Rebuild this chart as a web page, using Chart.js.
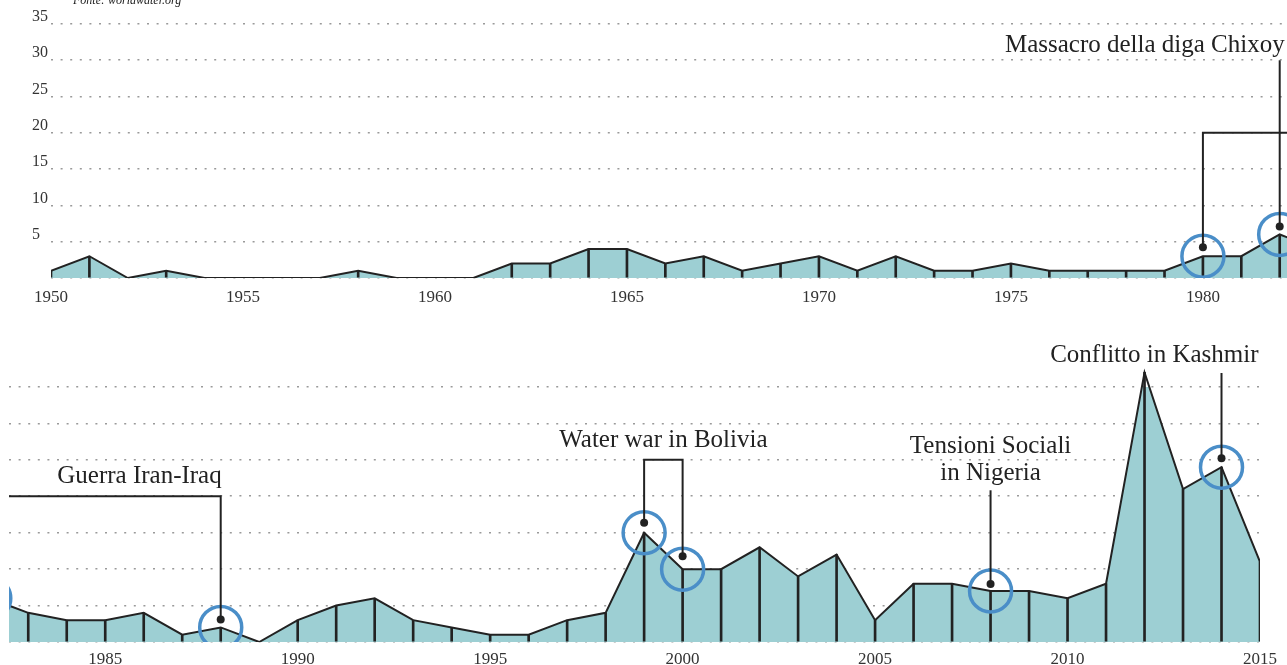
<!DOCTYPE html>
<html>
<head>
<meta charset="utf-8">
<script src="https://cdn.jsdelivr.net/npm/chart.js@4.4.1/dist/chart.umd.min.js"></script>
<style>
  body { margin: 0; background: #fff; width: 1287px; height: 665px; overflow: hidden; position: relative; }
  canvas { position: absolute; left: 0; }
  #top { top: 0; }
  #bottom { top: 330px; }
</style>
</head>
<body>
<canvas id="top" width="1287" height="320"></canvas>
<canvas id="bottom" width="1287" height="335"></canvas>
<script>
// conflitti legati all'acqua per anno
var years = [1950, 1951, 1952, 1953, 1954, 1955, 1956, 1957, 1958, 1959,
             1960, 1961, 1962, 1963, 1964, 1965, 1966, 1967, 1968, 1969,
             1970, 1971, 1972, 1973, 1974, 1975, 1976, 1977, 1978, 1979,
             1980, 1981, 1982, 1983, 1984, 1985, 1986, 1987, 1988, 1989,
             1990, 1991, 1992, 1993, 1994, 1995, 1996, 1997, 1998, 1999,
             2000, 2001, 2002, 2003, 2004, 2005, 2006, 2007, 2008, 2009,
             2010, 2011, 2012, 2013, 2014, 2015];
var conflicts = [1, 3, 0, 1, 0, 0, 0, 0, 1, 0,
                 0, 0, 2, 2, 4, 4, 2, 3, 1, 2,
                 3, 1, 3, 1, 1, 2, 1, 1, 1, 1,
                 3, 3, 6, 4, 3, 3, 4, 1, 2, 0,
                 3, 5, 6, 3, 2, 1, 1, 3, 4, 15,
                 10, 10, 13, 9, 12, 3, 8, 8, 7, 7,
                 6, 8, 37, 21, 24, 11];
var yTicks = [0, 5, 10, 15, 20, 25, 30, 35];
var xTicks = [1950, 1955, 1960, 1965, 1970, 1975, 1980, 1985, 1990, 1995, 2000, 2005, 2010, 2015];
var markTop = [1980, 1982];
var markBottom = [1982, 1988, 1999, 2000, 2008, 2014];
var notes = ['Massacro della diga Chixoy', 'Guerra Iran-Iraq', 'Water war in Bolivia',
             'Tensioni Sociali', 'in Nigeria', 'Conflitto in Kashmir'];
var source = 'Fonte: worldwater.org';

var FONT = '"Liberation Serif", "Times New Roman", serif';
var TEAL = '#9dcfd3';
var INK = '#222';
var BLUE = '#4a8ec8';

function valueOf(y) { return conflicts[years.indexOf(y)]; }
var points = years.map(function (y, i) { return { x: y, y: conflicts[i] }; });

function path(ctx, pts) {
  ctx.beginPath();
  ctx.moveTo(pts[0][0], pts[0][1]);
  for (var i = 1; i < pts.length; i++) ctx.lineTo(pts[i][0], pts[i][1]);
  ctx.stroke();
}
function dot(ctx, x, y) {
  ctx.beginPath();
  ctx.arc(x, y, 4, 0, Math.PI * 2);
  ctx.fill();
}

function makeChart(id, xmin, xmax, marks, padding, showY, xHeight, labelPad, clip, drawNotes) {
  return new Chart(document.getElementById(id), {
    type: 'line',
    data: {
      datasets: [{
        type: 'scatter',
        data: marks.map(function (y) { return { x: y, y: valueOf(y) }; }),
        pointRadius: 21,
        pointBorderWidth: 3.5,
        pointBorderColor: BLUE,
        pointBackgroundColor: 'rgba(0,0,0,0)',
        order: 0
      }, {
        type: 'bar',
        data: points,
        barThickness: 2,
        backgroundColor: INK,
        clip: clip,
        order: 1
      }, {
        data: points,
        borderColor: INK,
        borderWidth: 2,
        backgroundColor: TEAL,
        fill: 'origin',
        tension: 0,
        pointRadius: 0,
        clip: clip,
        order: 2
      }]
    },
    options: {
      responsive: false,
      animation: false,
      devicePixelRatio: 1,
      layout: { padding: padding, autoPadding: false },
      plugins: { legend: { display: false }, tooltip: { enabled: false } },
      scales: {
        x: {
          type: 'linear',
          min: xmin,
          max: xmax,
          offset: false,
          grid: { display: false, drawTicks: false },
          border: { display: false },
          afterBuildTicks: function (s) {
            s.ticks = xTicks.filter(function (t) { return t >= xmin && t <= xmax; })
                            .map(function (t) { return { value: t }; });
          },
          afterFit: function (s) { s.height = xHeight; },
          ticks: {
            padding: labelPad,
            maxRotation: 0,
            autoSkip: false,
            color: '#333',
            font: { family: FONT, size: 17 },
            callback: function (v) { return String(v); }
          }
        },
        y: {
          min: 0,
          max: 35,
          z: 1,
          grid: { color: '#9a9a9a', lineWidth: 1.6, drawTicks: false },
          border: { display: false, dash: [2, 7.6] },
          afterBuildTicks: function (s) {
            s.ticks = yTicks.map(function (t) { return { value: t }; });
          },
          afterFit: function (s) { s.width = showY ? 19 : 0; },
          ticks: {
            display: showY,
            crossAlign: 'far',
            labelOffset: -7,
            padding: 0,
            color: '#333',
            font: { family: FONT, size: 16 },
            callback: function (v) { return v === 0 ? '' : String(v); }
          }
        }
      }
    },
    plugins: [{ id: 'notes', afterDraw: drawNotes }]
  });
}

function helpers(chart) {
  var xs = chart.scales.x, ys = chart.scales.y;
  return {
    px: function (v) { return xs.getPixelForValue(v); },
    py: function (v) { return ys.getPixelForValue(v); }
  };
}

// prima riga: 1950-1982
makeChart('top', 1950, 1982.19, markTop, { left: 32, top: 24, right: 0, bottom: 0 }, true, 42, 9, 0,
  function (chart) {
    var ctx = chart.ctx, h = helpers(chart);
    ctx.save();
    ctx.strokeStyle = INK; ctx.fillStyle = INK; ctx.lineWidth = 2;
    var x80 = h.px(1980), y80 = h.py(valueOf(1980)) - 9;
    path(ctx, [[x80, y80], [x80, h.py(20)], [chart.width + 5, h.py(20)]]);
    dot(ctx, x80, y80);
    var x82 = h.px(1982), y82 = h.py(valueOf(1982)) - 8;
    path(ctx, [[x82, y82], [x82, h.py(30)]]);
    dot(ctx, x82, y82);
    ctx.font = '25px ' + FONT;
    ctx.textAlign = 'right';
    ctx.textBaseline = 'alphabetic';
    ctx.fillText(notes[0], x82 + 5, h.py(30) - 8);
    ctx.font = 'italic 12px ' + FONT;
    ctx.textAlign = 'left';
    ctx.fillText(source, 73, 4);
    ctx.restore();
  });

// seconda riga: 1982-2015
makeChart('bottom', 1982.5, 2015, markBottom, { left: 9, top: 57, right: 27, bottom: 0 }, false, 23, 7,
  { left: 0, top: false, right: 0, bottom: 0 },
  function (chart) {
    var ctx = chart.ctx, h = helpers(chart);
    ctx.save();
    ctx.strokeStyle = INK; ctx.fillStyle = INK; ctx.lineWidth = 2;
    ctx.font = '25px ' + FONT;
    ctx.textBaseline = 'alphabetic';

    // Guerra Iran-Iraq
    var g = h.px(1988), gy = h.py(valueOf(1988)) - 8;
    path(ctx, [[chart.chartArea.left, h.py(20)], [g, h.py(20)], [g, gy]]);
    dot(ctx, g, gy);
    ctx.textAlign = 'right';
    ctx.fillText(notes[1], g + 1, h.py(20) - 13);

    // Water war in Bolivia
    var a = h.px(1999), ay = h.py(valueOf(1999)) - 10;
    var b = h.px(2000), by = h.py(valueOf(2000)) - 13;
    path(ctx, [[a, ay], [a, h.py(25)], [b, h.py(25)], [b, by]]);
    dot(ctx, a, ay); dot(ctx, b, by);
    ctx.textAlign = 'center';
    ctx.fillText(notes[2], (a + b) / 2, h.py(25) - 13);

    // Tensioni Sociali in Nigeria
    var n = h.px(2008), ny = h.py(valueOf(2008)) - 7;
    path(ctx, [[n, ny], [n, h.py(20) - 6]]);
    dot(ctx, n, ny);
    ctx.fillText(notes[3], n, h.py(20) - 43);
    ctx.fillText(notes[4], n, h.py(20) - 16);

    // Conflitto in Kashmir
    var k = h.px(2014), ky = h.py(valueOf(2014)) - 9;
    path(ctx, [[k, ky], [k, h.py(35) - 14]]);
    dot(ctx, k, ky);
    ctx.textAlign = 'right';
    ctx.fillText(notes[5], k + 37, h.py(35) - 25);
    ctx.restore();
  });
</script>
</body>
</html>
